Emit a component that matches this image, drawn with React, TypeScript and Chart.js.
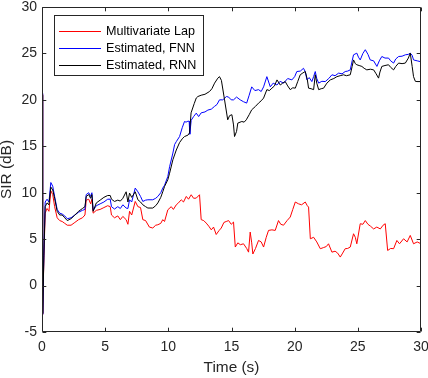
import React, { useEffect, useRef } from "react";
import { Chart, registerables } from "chart.js";

Chart.register(...registerables);

// ---- Data ----
const seriesLabels = ["Multivariate Lap", "Estimated, FNN", "Estimated, RNN"];
const seriesColors = ["#ff0000", "#0000ff", "#000000"];

const lapTime = [
  0, 0.03, 0.07, 0.15, 0.25, 0.4, 0.55, 0.7, 0.85, 1.0, 1.2, 1.4, 1.6, 1.8, 2.0, 2.3, 2.6, 2.9, 3.2, 3.4,
  3.5, 3.7, 3.85, 3.95, 4.05, 4.3, 4.6, 4.9, 5.2, 5.4, 5.5, 5.74, 6.0, 6.2, 6.4, 6.66, 6.8, 6.93, 7.1, 7.38,
  7.59, 7.8, 7.98, 8.2, 8.5, 8.77, 9.0, 9.17, 9.4, 9.56, 9.7, 9.96, 10.23, 10.4, 10.63, 10.8, 11.02, 11.2, 11.42, 11.6,
  11.81, 12.0, 12.21, 12.47, 12.6, 12.8, 13.0, 13.2, 13.4, 13.58, 13.79, 14.0, 14.19, 14.4, 14.58, 14.77, 14.98, 15.16, 15.3, 15.5,
  15.7, 15.95, 16.2, 16.35, 16.48, 16.6, 16.69, 16.9, 17.14, 17.35, 17.54, 17.75, 17.93, 18.2, 18.46, 18.72, 18.9, 19.12, 19.4, 19.65,
  19.85, 20.05, 20.31, 20.55, 20.84, 21.0, 21.1, 21.24, 21.5, 21.75, 22.03, 22.3, 22.5, 22.68, 22.95, 23.2, 23.4, 23.61, 23.8, 24.0,
  24.2, 24.4, 24.66, 24.8, 24.92, 25.19, 25.4, 25.59, 25.8, 26.0, 26.25, 26.5, 26.78, 27.0, 27.17, 27.36, 27.6, 27.83, 28.09, 28.3,
  28.62, 28.9, 29.15, 29.41, 29.7, 30,
];
const lapSIR = [
  20.6, 5, -3.1, 3, 7.8, 8.3, 8.0, 10.2, 9.8, 8.5, 7.3, 7.0, 6.9, 6.7, 6.5, 6.5, 6.8, 7.1, 7.3, 7.6,
  9.2, 9.3, 8.8, 9.3, 7.8, 8.1, 8.2, 8.4, 8.6, 8.5, 7.6, 7.3, 7.5, 7.1, 7.45, 7.1, 6.6, 8.0, 7.6, 9.06,
  8.5, 8.4, 7.1, 7.0, 6.3, 6.2, 6.5, 6.55, 6.7, 7.1, 6.9, 8.16, 8.5, 8.2, 8.7, 8.9, 9.24, 9.0, 9.6, 9.3,
  9.78, 9.4, 9.42, 9.78, 7.1, 7.0, 6.73, 6.4, 6.0, 6.3, 5.5, 5.9, 6.2, 6.8, 6.9, 7.0, 6.6, 6.84, 4.15, 4.6,
  4.4, 4.5, 4.0, 3.6, 5.76, 4.6, 3.4, 4.0, 4.86, 4.7, 4.15, 5.2, 5.94, 6.0, 5.94, 7.0, 6.6, 6.5, 7.0, 7.38,
  8.2, 9.0, 8.8, 8.7, 9.0, 8.6, 8.45, 5.04, 5.2, 4.7, 3.97, 4.1, 4.2, 4.5, 3.6, 3.7, 3.5, 3.07, 3.5, 3.97,
  4.0, 4.15, 5.58, 5.2, 4.5, 6.66, 6.6, 7.0, 6.6, 6.4, 6.1, 6.3, 6.1, 6.5, 6.66, 3.78, 4.0, 3.97, 4.86, 4.5,
  5.04, 4.7, 5.4, 4.5, 4.7, 4.5,
];

const fnnTime = [
  0, 0.03, 0.07, 0.15, 0.25, 0.4, 0.55, 0.7, 0.85, 1.0, 1.2, 1.4, 1.6, 1.8, 2.0, 2.3, 2.6, 2.9, 3.2, 3.4,
  3.5, 3.7, 3.85, 3.95, 4.05, 4.3, 4.6, 4.9, 5.2, 5.4, 5.5, 5.74, 6.0, 6.2, 6.4, 6.66, 6.8, 6.93, 7.1, 7.38,
  7.59, 7.8, 7.98, 8.2, 8.38, 8.77, 9.0, 9.17, 9.4, 9.56, 9.7, 9.96, 10.1, 10.36, 10.5, 10.63, 10.89, 11.1, 11.28, 11.4,
  11.55, 11.65, 11.7, 11.81, 12.0, 12.21, 12.4, 12.6, 12.9, 13.13, 13.4, 13.66, 13.85, 14.05, 14.31, 14.6, 14.77, 14.98, 15.16, 15.4,
  15.69, 15.95, 16.2, 16.4, 16.6, 16.85, 17.14, 17.35, 17.54, 17.8, 18.07, 18.3, 18.6, 18.85, 19.12, 19.45, 19.78, 20.0, 20.17, 20.45,
  20.7, 20.85, 20.97, 21.15, 21.36, 21.5, 21.63, 21.75, 21.9, 22.15, 22.42, 22.7, 22.95, 23.2, 23.48, 23.75, 24.0, 24.2, 24.4, 24.55,
  24.66, 24.92, 25.05, 25.19, 25.4, 25.59, 25.8, 25.98, 26.25, 26.51, 26.7, 26.9, 27.15, 27.43, 27.6, 27.83, 28.0, 28.23, 28.5, 28.76,
  29.0, 29.15, 29.3, 29.41, 29.7, 30,
];
const fnnSIR = [
  20.7, 5, -3.1, 3.5, 9.0, 9.3, 9.0, 11.1, 10.7, 9.6, 8.2, 7.8, 7.7, 7.5, 7.2, 7.3, 7.6, 7.9, 8.1, 8.2,
  9.8, 10.0, 9.6, 10.0, 8.1, 8.6, 8.8, 9.0, 9.3, 9.3, 8.5, 8.24, 8.5, 8.3, 8.7, 8.35, 8.3, 9.24, 9.0, 10.5,
  10.1, 9.6, 9.06, 9.2, 9.24, 9.24, 9.4, 9.6, 10.0, 10.5, 10.8, 11.75, 12.8, 14.27, 15.2, 15.5, 16.05, 17.0, 17.67, 17.6,
  17.7, 17.7, 16.3, 17.8, 18.2, 18.57, 18.2, 18.6, 18.7, 18.9, 19.0, 19.3, 19.5, 20.0, 20.0, 20.36, 20.3, 20.0, 20.0, 20.3,
  20.0, 19.8, 19.65, 20.5, 21.4, 21.0, 21.1, 20.9, 21.4, 22.5, 21.4, 21.8, 21.6, 22.0, 21.8, 22.3, 22.15, 22.5, 23.05, 23.1,
  23.4, 23.0, 22.15, 22.4, 21.97, 22.5, 23.05, 22.3, 21.8, 22.0, 21.97, 22.3, 22.7, 22.6, 22.88, 22.8, 23.05, 23.1, 23.23, 24.2,
  24.85, 25.03, 24.6, 24.3, 25.0, 25.4, 24.9, 24.3, 24.2, 23.6, 24.2, 24.67, 24.5, 24.5, 24.2, 23.96, 24.4, 24.67, 24.7, 24.85,
  24.9, 25.03, 24.8, 24.3, 24.2, 24.1,
];

const rnnTime = [
  0, 0.03, 0.07, 0.15, 0.25, 0.4, 0.55, 0.7, 0.85, 1.0, 1.2, 1.4, 1.6, 1.8, 2.0, 2.3, 2.6, 2.9, 3.2, 3.4,
  3.5, 3.7, 3.85, 3.95, 4.05, 4.3, 4.6, 4.9, 5.2, 5.4, 5.5, 5.74, 6.0, 6.2, 6.4, 6.66, 6.8, 6.93, 7.1, 7.38,
  7.59, 7.8, 7.98, 8.2, 8.38, 8.77, 9.0, 9.17, 9.4, 9.56, 9.7, 9.96, 10.1, 10.36, 10.63, 10.89, 11.1, 11.28, 11.55, 11.68,
  11.8, 12.05, 12.21, 12.34, 12.6, 12.9, 13.26, 13.45, 13.66, 13.92, 14.05, 14.2, 14.45, 14.7, 14.85, 15.03, 15.16, 15.24, 15.4, 15.5,
  15.82, 16.0, 16.17, 16.4, 16.6, 16.9, 17.14, 17.35, 17.54, 17.8, 18.0, 18.2, 18.4, 18.6, 18.86, 19.05, 19.25, 19.45, 19.65,
  19.85, 20.05, 20.25, 20.44, 20.65, 20.84, 21.0, 21.1, 21.3, 21.5, 21.63, 21.75, 21.9, 22.1, 22.29, 22.55, 22.82, 23.1, 23.34, 23.6,
  23.87, 24.1, 24.4, 24.55, 24.66, 24.8, 24.92, 25.1, 25.32, 25.5, 25.71, 26.0, 26.25, 26.45, 26.64, 26.75, 26.9, 27.15, 27.43, 27.6,
  27.83, 28.0, 28.23, 28.5, 28.76, 29.0, 29.15, 29.3, 29.41, 29.55, 29.68, 30,
];
const rnnSIR = [
  20.5, 5, -3.0, 3.2, 8.5, 8.9, 8.7, 10.6, 10.3, 9.4, 8.0, 7.6, 7.6, 7.3, 7.0, 7.2, 7.6, 8.0, 8.3, 8.5,
  9.6, 9.8, 9.4, 9.8, 8.0, 8.9, 9.2, 9.5, 9.7, 9.7, 9.3, 9.06, 9.2, 9.1, 9.4, 10.1, 9.0, 9.96, 9.5, 10.1,
  9.24, 9.0, 8.7, 8.5, 8.35, 8.35, 8.6, 8.9, 9.5, 10.1, 10.67, 11.4, 12.1, 13.55, 14.6, 15.4, 15.8, 16.05, 16.2, 16.45,
  18.6, 19.6, 20.2, 20.36, 20.5, 20.6, 20.9, 21.2, 21.8, 22.34, 22.5, 22.1, 20.0, 17.85, 18.3, 18.4, 17.3, 16.05, 16.6, 17.5,
  17.67, 17.6, 17.85, 18.4, 18.93, 19.3, 19.65, 19.9, 20.19, 21.1, 21.0, 21.26, 21.5, 22.15, 21.6, 21.8, 21.97, 21.5, 21.1,
  21.3, 21.26, 22.0, 22.7, 22.9, 23.05, 22.2, 21.26, 21.2, 21.1, 22.7, 21.8, 21.1, 21.2, 21.26, 21.8, 22.15, 22.3, 22.5, 22.6,
  22.7, 22.6, 22.7, 23.6, 24.3, 23.9, 23.78, 23.7, 23.6, 23.4, 23.23, 23.3, 23.23, 22.8, 22.34, 23.0, 23.6, 23.7, 23.78, 23.5,
  23.23, 23.6, 23.96, 23.9, 23.96, 24.5, 25.03, 23.6, 22.5, 22.0, 21.97, 21.97,
];

const xTicks = [0, 5, 10, 15, 20, 25, 30];
const yTicks = [-5, 0, 5, 10, 15, 20, 25, 30];
const xTitle = "Time (s)";
const yTitle = "SIR (dB)";

// ---- Styling ----
const FONT = "'Liberation Sans', Arial, Helvetica, sans-serif";
const AXIS_COLOR = "#262626";

const toPoints = (t: number[], v: number[]) => t.map((x, i) => ({ x, y: v[i] }));

const boxAndTicks = {
  id: "boxAndTicks",
  afterDatasetsDraw(chart: any) {
    const { ctx, chartArea } = chart;
    const xs = chart.scales.x;
    const ys = chart.scales.y;
    const L = Math.round(chartArea.left) + 0.5;
    const R = Math.round(chartArea.right) - 0.5;
    const T = Math.round(chartArea.top) + 0.5;
    const B = Math.round(chartArea.bottom) - 0.5;
    const tl = 3.8;
    ctx.save();
    ctx.strokeStyle = AXIS_COLOR;
    ctx.lineWidth = 1;
    ctx.beginPath();
    ctx.rect(L, T, R - L, B - T);
    xTicks.forEach((v) => {
      const px = Math.round(xs.getPixelForValue(v)) + 0.5;
      ctx.moveTo(px, B);
      ctx.lineTo(px, B - tl);
      ctx.moveTo(px, T);
      ctx.lineTo(px, T + tl);
    });
    yTicks.forEach((v) => {
      const py = Math.round(ys.getPixelForValue(v)) + 0.5;
      ctx.moveTo(L, py);
      ctx.lineTo(L + tl, py);
      ctx.moveTo(R, py);
      ctx.lineTo(R - tl, py);
    });
    ctx.stroke();
    ctx.restore();
  },
};

const boxLegend = {
  id: "boxLegend",
  afterDraw(chart: any) {
    const { ctx } = chart;
    const bx = 54.5;
    const by = 15.5;
    const bw = 149;
    const bh = 60;
    ctx.save();
    ctx.fillStyle = "#ffffff";
    ctx.fillRect(bx, by, bw, bh);
    ctx.strokeStyle = AXIS_COLOR;
    ctx.lineWidth = 1;
    ctx.strokeRect(bx, by, bw, bh);
    ctx.font = `12.6px ${FONT}`;
    ctx.textBaseline = "middle";
    ctx.textAlign = "left";
    seriesLabels.forEach((label, i) => {
      const cy = 31.5 + i * 17;
      ctx.strokeStyle = seriesColors[i];
      ctx.beginPath();
      ctx.moveTo(59, cy);
      ctx.lineTo(101, cy);
      ctx.stroke();
      ctx.fillStyle = "#000000";
      ctx.fillText(label, 106, cy);
    });
    ctx.restore();
  },
};

export default function App() {
  const ref = useRef<HTMLCanvasElement | null>(null);

  useEffect(() => {
    if (!ref.current) return;
    const series = [
      { t: lapTime, v: lapSIR, order: 3 },
      { t: fnnTime, v: fnnSIR, order: 2 },
      { t: rnnTime, v: rnnSIR, order: 1 },
    ];
    const chart = new Chart(ref.current, {
      type: "line",
      data: {
        datasets: series.map((s, i) => ({
          label: seriesLabels[i],
          data: toPoints(s.t, s.v),
          borderColor: seriesColors[i],
          backgroundColor: seriesColors[i],
          borderWidth: 1,
          pointRadius: 0,
          tension: 0,
          fill: false,
          order: s.order,
        })),
      },
      options: {
        animation: false,
        responsive: false,
        devicePixelRatio: 1,
        layout: { padding: { top: 7, right: 7, left: 0, bottom: 0 } },
        plugins: {
          legend: { display: false },
          tooltip: { enabled: false },
        },
        scales: {
          x: {
            type: "linear",
            min: 0,
            max: 30,
            grid: { display: false, drawTicks: false },
            border: { display: false },
            ticks: {
              stepSize: 5,
              padding: 7,
              color: AXIS_COLOR,
              font: { family: FONT, size: 14 },
              maxRotation: 0,
            },
            title: {
              display: true,
              text: xTitle,
              color: AXIS_COLOR,
              font: { family: FONT, size: 15.4 },
              padding: { top: 0, bottom: 1 },
            },
            afterFit(scale: any) {
              scale.height = 46;
              scale.paddingLeft = 0;
              scale.paddingRight = 0;
            },
          },
          y: {
            type: "linear",
            min: -5,
            max: 30,
            grid: { display: false, drawTicks: false },
            border: { display: false },
            ticks: {
              stepSize: 5,
              padding: 5,
              color: AXIS_COLOR,
              font: { family: FONT, size: 14 },
            },
            title: {
              display: true,
              text: yTitle,
              color: AXIS_COLOR,
              font: { family: FONT, size: 15.4, lineHeight: 1 },
              padding: { top: -1, bottom: 0 },
            },
            afterFit(scale: any) {
              scale.width = 42;
              scale.paddingTop = 0;
              scale.paddingBottom = 0;
            },
          },
        },
      },
      plugins: [boxAndTicks, boxLegend],
    });
    return () => chart.destroy();
  }, []);

  return (
    <div style={{ position: "fixed", left: 0, top: 0, width: 428, height: 378, background: "#ffffff" }}>
      <canvas ref={ref} width={428} height={378} style={{ display: "block" }} />
    </div>
  );
}
